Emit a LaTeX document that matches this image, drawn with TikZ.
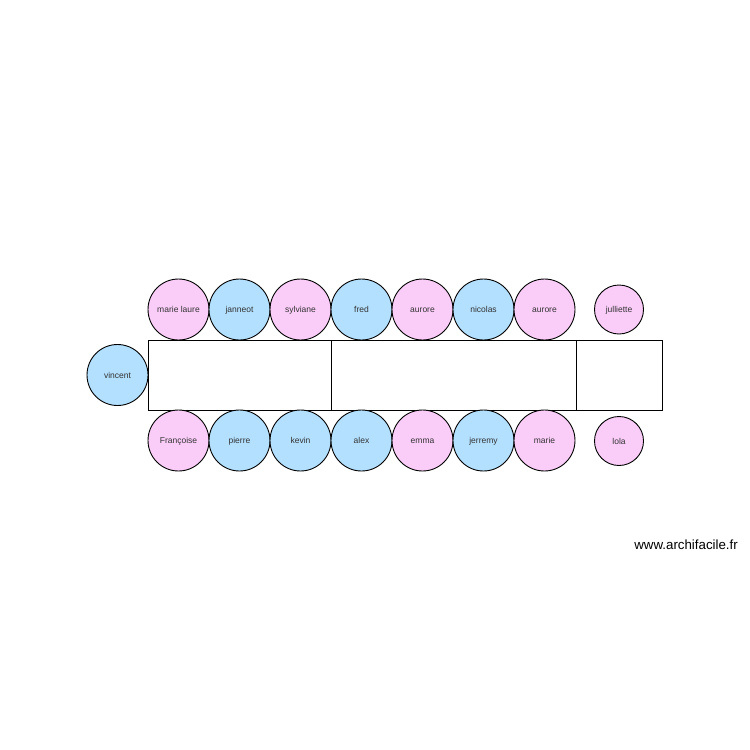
\documentclass[tikz,border=0pt]{standalone}
\usepackage{fontspec}
\setmainfont{Liberation Sans}
\definecolor{pinkg}{RGB}{250,204,248}
\definecolor{blueg}{RGB}{179,224,255}
\definecolor{txt}{RGB}{51,51,51}
\begin{document}
\begin{tikzpicture}[x=1pt,y=-1pt,
  guest/.style={circle,draw=black,line width=0.9pt,minimum size=61pt,inner sep=0pt,font=\fontsize{8.5}{10}\selectfont,text=txt,text height=8.4pt,text depth=1.6pt},
  small/.style={guest,minimum size=49pt},
  pk/.style={fill=pinkg},
  bl/.style={fill=blueg},
  tbl/.style={draw=black,line width=0.9pt,minimum height=70pt,inner sep=0pt}]
\useasboundingbox (0,0) rectangle (750,750);
\fill[white] (0,0) rectangle (750,750);
% tables
\node[tbl,minimum width=183pt] (t1) at (239.5,375) {};
\node[tbl,minimum width=245pt] (t2) at (453.5,375) {};
\node[tbl,minimum width=86pt] (t3) at (619,375) {};
% top row
\node[guest,pk] (g1) at (178.5,309.5) {marie laure};
\node[guest,bl] (g2) at (239.5,309.5) {janneot};
\node[guest,pk] (g3) at (300.5,309.5) {sylviane};
\node[guest,bl] (g4) at (361.5,309.5) {fred};
\node[guest,pk] (g5) at (422.5,309.5) {aurore};
\node[guest,bl] (g6) at (483.5,309.5) {nicolas};
\node[guest,pk] (g7) at (544.5,309.5) {aurore};
\node[small,pk] (g8) at (619,309.5) {julliette};
% bottom row
\node[guest,pk] (h1) at (178.5,440.5) {Françoise};
\node[guest,bl] (h2) at (239.5,440.5) {pierre};
\node[guest,bl] (h3) at (300.5,440.5) {kevin};
\node[guest,bl] (h4) at (361.5,440.5) {alex};
\node[guest,pk] (h5) at (422.5,440.5) {emma};
\node[guest,bl] (h6) at (483.5,440.5) {jerremy};
\node[guest,pk] (h7) at (544.5,440.5) {marie};
\node[small,pk] (h8) at (619,441) {lola};
% head
\node[guest,bl] (v) at (117.5,375) {vincent};
% watermark
\node[anchor=east,font=\fontsize{13.3}{15}\selectfont,inner sep=0pt] (wm) at (738,545) {www.archifacile.fr};
\end{tikzpicture}
\end{document}
